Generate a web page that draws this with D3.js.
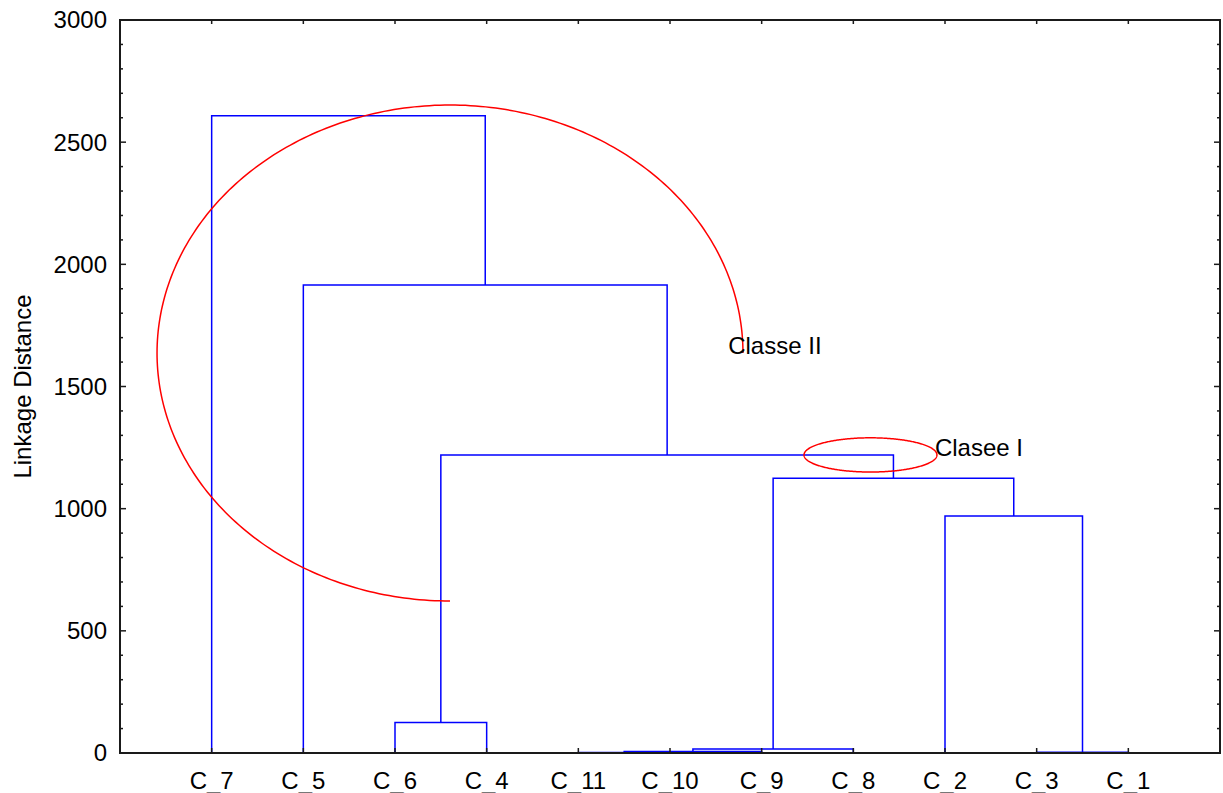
<!DOCTYPE html>
<html>
<head>
<meta charset="utf-8">
<script src="https://cdn.jsdelivr.net/npm/d3@7"></script>
<style>
  html, body { margin: 0; padding: 0; background: #fff; }
  svg { display: block; font-family: "Liberation Sans", Arial, Helvetica, sans-serif; }
</style>
</head>
<body>
<svg id="chart" width="1223" height="793"></svg>
<script>
// ---- data ----
const leaves = ["C_7", "C_5", "C_6", "C_4", "C_11", "C_10", "C_9", "C_8", "C_2", "C_3", "C_1"];
// merges: [left, right, linkage distance] -> produces cluster "m1", "m2", ...
const merges = [
  ["C_11", "C_10", 2],
  ["m1", "C_9", 6],
  ["m2", "C_8", 16],
  ["C_3", "C_1", 3],
  ["C_2", "m4", 970],
  ["m3", "m5", 1125],
  ["C_6", "C_4", 125],
  ["m7", "m6", 1220],
  ["C_5", "m8", 1915],
  ["C_7", "m9", 2608]
];
const yTicks = [0, 500, 1000, 1500, 2000, 2500, 3000];
const yMinorStep = 100;
const yLabel = "Linkage Distance";
// annotations in data units: centre index / distance, radii in index / distance units
const classe2 = { label: "Classe II", cx: 3.6, cy: 1637, rx: 3.196, ry: 1015, start: 0, end: 270, labelX: 6.635, labelY: 1637 };
const classe1 = { label: "Clasee I", cx: 8.187, cy: 1220, rx: 0.725, ry: 70, labelX: 8.89, labelY: 1220 };

// ---- layout ----
const svg = d3.select("#chart");
const mLeft = 120, mRight = 1220, mTop = 20, mBottom = 753;
const x = d3.scaleLinear().domain([0, leaves.length + 1]).range([mLeft, mRight]);
const y = d3.scaleLinear().domain([0, 3000]).range([mBottom, mTop]);

// positions of leaves and clusters
const pos = {};
leaves.forEach((l, i) => { pos[l] = { x: i + 1, h: 0 }; });
merges.forEach((m, i) => {
  const a = pos[m[0]], b = pos[m[1]];
  pos["m" + (i + 1)] = { x: (a.x + b.x) / 2, h: m[2] };
});

// dendrogram links
const g = svg.append("g");
merges.forEach((m) => {
  const a = pos[m[0]], b = pos[m[1]], h = m[2];
  const p = d3.path();
  p.moveTo(x(a.x), y(a.h));
  p.lineTo(x(a.x), y(h));
  p.lineTo(x(b.x), y(h));
  p.lineTo(x(b.x), y(b.h));
  g.append("path").attr("d", p.toString())
    .attr("fill", "none").attr("stroke", "#0000ff").attr("stroke-width", 1.5);
});

// annotations
function ellipsePath(c, a0, a1) {
  const pts = [];
  const cx = x(c.cx), cy = y(c.cy);
  const rx = x(c.cx + c.rx) - cx, ry = y(c.cy) - y(c.cy + c.ry);
  for (let t = a0; t <= a1; t += 1) {
    const r = t * Math.PI / 180;
    pts.push([cx + rx * Math.cos(r), cy - ry * Math.sin(r)]);
  }
  return d3.line()(pts);
}
svg.append("path").attr("d", ellipsePath(classe2, classe2.start, classe2.end))
  .attr("fill", "none").attr("stroke", "#ff0000").attr("stroke-width", 1.5);
svg.append("path").attr("d", ellipsePath(classe1, 0, 360))
  .attr("fill", "none").attr("stroke", "#ff0000").attr("stroke-width", 1.5);

svg.append("text").attr("x", x(classe2.labelX)).attr("y", y(classe2.labelY) + 1)
  .attr("font-size", 24).attr("fill", "#000").text(classe2.label);
svg.append("text").attr("x", x(classe1.labelX)).attr("y", y(classe1.labelY) + 1)
  .attr("font-size", 24).attr("fill", "#000").text(classe1.label);

// frame and ticks
const axisColor = "#1a1a1a";
const ticksG = svg.append("g").attr("stroke", axisColor).attr("stroke-width", 1.5);
const minor = d3.range(0, 3000 + 1, yMinorStep);
minor.forEach(v => {
  const len = (v % 500 === 0) ? 6 : 3;
  ticksG.append("line").attr("x1", mLeft).attr("x2", mLeft + len).attr("y1", y(v)).attr("y2", y(v));
  ticksG.append("line").attr("x1", mRight).attr("x2", mRight - len).attr("y1", y(v)).attr("y2", y(v));
});
leaves.forEach((l, i) => {
  ticksG.append("line").attr("x1", x(i + 1)).attr("x2", x(i + 1)).attr("y1", mBottom).attr("y2", mBottom - 5);
  ticksG.append("line").attr("x1", x(i + 1)).attr("x2", x(i + 1)).attr("y1", mTop).attr("y2", mTop + 4);
});
svg.append("rect").attr("x", mLeft).attr("y", mTop).attr("width", mRight - mLeft).attr("height", mBottom - mTop)
  .attr("fill", "none").attr("stroke", axisColor).attr("stroke-width", 2);

// tick labels
svg.append("g").selectAll("text").data(yTicks).join("text")
  .attr("x", mLeft - 13).attr("y", d => y(d)).attr("dy", "0.35em")
  .attr("text-anchor", "end").attr("font-size", 24).attr("fill", "#000")
  .text(d => d);
svg.append("g").selectAll("text").data(leaves).join("text")
  .attr("x", (d, i) => x(i + 1)).attr("y", 789)
  .attr("text-anchor", "middle").attr("font-size", 24).attr("fill", "#000")
  .text(d => d);

// y axis title
svg.append("text")
  .attr("transform", `translate(31, ${(mTop + mBottom) / 2}) rotate(-90)`)
  .attr("text-anchor", "middle").attr("font-size", 24).attr("fill", "#000")
  .text(yLabel);
</script>
</body>
</html>
